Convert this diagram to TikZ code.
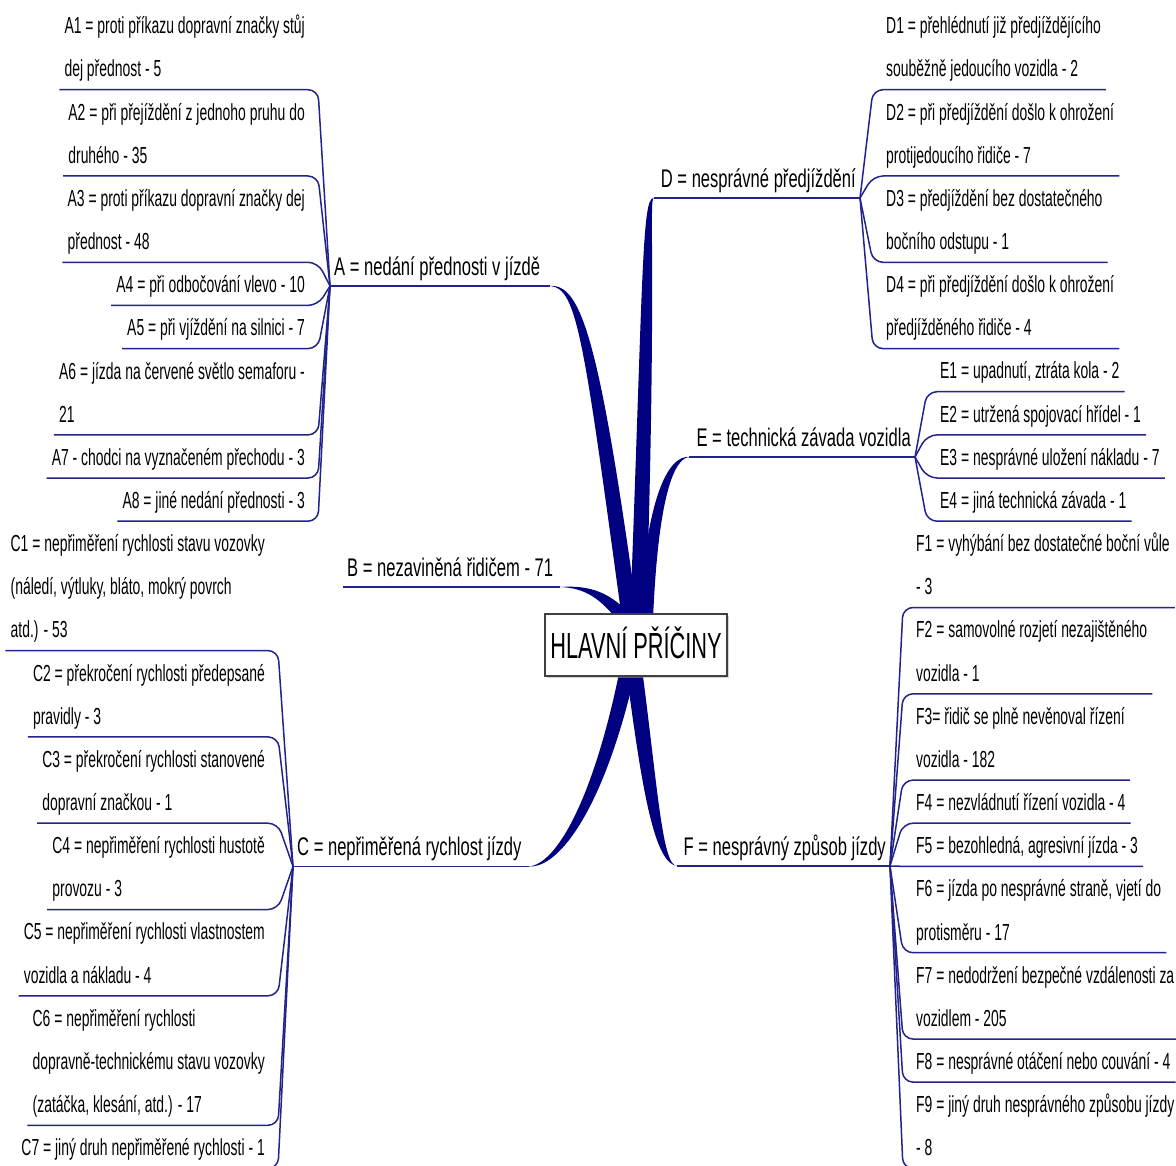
\documentclass[tikz,border=0pt]{standalone}
\usepackage{fontspec}
\setmainfont{Liberation Sans}[FakeStretch=0.65]
\newfontfamily\hubfont{Liberation Sans}[FakeStretch=0.6]
\newfontfamily\leaffamily{Liberation Sans}[FakeStretch=0.6]
\usepackage{tikz}
\usetikzlibrary{calc}
\usetikzlibrary{shadows}
\usetikzlibrary{backgrounds}
\definecolor{trunkblue}{RGB}{0,0,128}
\definecolor{twigblue}{RGB}{35,35,140}
\newcommand{\leaffont}{\leaffamily\fontsize{23.2}{43.15}\selectfont}
\newcommand{\catfont}{\fontsize{25.5}{30}\selectfont}
\newcommand{\uln}{\rule[-12.5pt]{0pt}{12.5pt}}
\tikzstyle{leaf} = [font=\leaffont, align=left, inner xsep=5pt, inner ysep=0pt]
\tikzstyle{cat} = [font=\catfont, inner xsep=4pt, inner ysep=0pt, text depth=10.5pt]
\tikzstyle{hub} = [draw=black!75, line width=1.2pt, fill=white, font=\hubfont\fontsize{36.3}{40}\selectfont, minimum width=182pt, minimum height=62pt, inner sep=0pt, text height=26pt, text depth=0pt, drop shadow={shadow xshift=2pt, shadow yshift=-2pt, fill=black!35}]
\tikzstyle{twig} = [line width=1.5pt, draw=twigblue, rounded corners=10pt]
\tikzstyle{stem} = [line width=1.6pt, draw=twigblue]
\tikzstyle{trunk} = [fill=trunkblue]

\begin{document}
\begin{tikzpicture}[x=1pt, y=-1pt]
\useasboundingbox (0,0) rectangle (1176,1166);
\node [hub] (hub) at (636,645) {HLAVNÍ PŘÍČINY};

\node [cat, anchor=south west] (catA) at (330,286) {A = nedání přednosti v jízdě};
\node [cat, anchor=south west] (catB) at (343,587) {B = nezaviněná řidičem - 71};
\node [cat, anchor=south west] (catC) at (293,866.5) {C = nepřiměřená rychlost jízdy};
\node [cat, anchor=south east] (catD) at (860,198) {D = nesprávné předjíždění};
\node [cat, anchor=south east] (catE) at (915,457) {E = technická závada vozidla};
\node [cat, anchor=south east] (catF) at (890,866) {F = nesprávný způsob jízdy};
\coordinate (ta) at ([xshift=6pt]catA.south east);
\coordinate (tb) at ([xshift=3pt]catB.south east);
\coordinate (tc) at ([xshift=3pt]catC.south east);
\coordinate (td) at ([xshift=-3pt]catD.south west);
\coordinate (te) at ([xshift=-3pt]catE.south west);
\coordinate (tf) at ([xshift=-2pt]catF.south west);
\draw [stem] (catA.south west) -- (ta);
\draw [stem] (catB.south west) -- (tb);
\draw [stem] (catC.south west) -- (tc);
\draw [stem] (catD.south east) -- (td);
\draw [stem] (catE.south east) -- (te);
\draw [stem] (catF.south east) -- (tf);

\begin{scope}[on background layer]
\fill [white] (0,0) rectangle (1176,1166);
\fill [trunk] (ta) .. controls +(31,-2) and +(-38,-278) .. ($(hub.north)+(2,6)$) -- ($(hub.north)+(-14,6)$) .. controls +(-38,-278) and +(27,2) .. (ta) -- cycle;
\fill [trunk] (td) .. controls +(-12,-1) and +(13,-340) .. ($(hub.north)+(-6,6)$) -- ($(hub.north)+(10,6)$) .. controls +(11,-340) and +(-5,1) .. (td) -- cycle;
\fill [trunk] (te) .. controls +(-22,-2) and +(7,-120) .. ($(hub.north)+(3,6)$) -- ($(hub.north)+(17,6)$) .. controls +(5,-120) and +(-16,1) .. (te) -- cycle;
\fill [trunk] (tb) .. controls +(28,-2) and +(-22,-28) .. ($(hub.north)+(-2,6)$) -- ($(hub.north)+(-16,10)$) .. controls +(-20,-26) and +(24,1) .. (tb) -- cycle;
\fill [trunk] (tc) .. controls +(28,-2) and +(-26,129) .. ($(hub.south)+(-16,-8)$) -- ($(hub.south)+(0,-8)$) .. controls +(-30,135) and +(32,2) .. (tc) -- cycle;
\fill [trunk] (tf) .. controls +(-23,-2) and +(16,122) .. ($(hub.south)+(-10,-8)$) -- ($(hub.south)+(6,-8)$) .. controls +(16,122) and +(-15,1) .. (tf) -- cycle;
\end{scope}

\node [leaf, anchor=south east] (a1) at (310,89.7) {A1 = proti příkazu dopravní značky stůj\\dej přednost - 5\uln};
\node [leaf, anchor=south east] (a2) at (310,176) {A2 = při přejíždění z jednoho pruhu do\\druhého - 35\uln};
\node [leaf, anchor=south east] (a3) at (310,262.3) {A3 = proti příkazu dopravní značky dej\\přednost - 48\uln};
\node [leaf, anchor=south east] (a4) at (310,305.4) {A4 = při odbočování vlevo - 10\uln};
\node [leaf, anchor=south east] (a5) at (310,348.6) {A5 = při vjíždění na silnici - 7\uln};
\node [leaf, anchor=south east] (a6) at (310,434.9) {A6 = jízda na červené světlo semaforu -\\21\uln};
\node [leaf, anchor=south east] (a7) at (310,478) {A7 - chodci na vyznačeném přechodu - 3\uln};
\node [leaf, anchor=south east] (a8) at (310,521.2) {A8 = jiné nedání přednosti - 3\uln};
\draw [twig] (a1.south west) -- ([xshift=8pt]a1.south east) -- (catA.south west);
\draw [twig] (a2.south west) -- ([xshift=8pt]a2.south east) -- (catA.south west);
\draw [twig] (a3.south west) -- ([xshift=8pt]a3.south east) -- (catA.south west);
\draw [twig] (a4.south west) -- ([xshift=8pt]a4.south east) -- (catA.south west);
\draw [twig] (a5.south west) -- ([xshift=8pt]a5.south east) -- (catA.south west);
\draw [twig] (a6.south west) -- ([xshift=8pt]a6.south east) -- (catA.south west);
\draw [twig] (a7.south west) -- ([xshift=8pt]a7.south east) -- (catA.south west);
\draw [twig] (a8.south west) -- ([xshift=8pt]a8.south east) -- (catA.south west);

\node [leaf, anchor=south east] (c1) at (270,650.6) {C1 = nepřiměření rychlosti stavu vozovky\\(náledí, výtluky, bláto, mokrý povrch\\atd.) - 53\uln};
\node [leaf, anchor=south east] (c2) at (270,736.9) {C2 = překročení rychlosti předepsané\\pravidly - 3\uln};
\node [leaf, anchor=south east] (c3) at (270,823.2) {C3 = překročení rychlosti stanovené\\dopravní značkou - 1\uln};
\node [leaf, anchor=south east] (c4) at (270,909.5) {C4 = nepřiměření rychlosti hustotě\\provozu - 3\uln};
\node [leaf, anchor=south east] (c5) at (270,995.8) {C5 = nepřiměření rychlosti vlastnostem\\vozidla a nákladu - 4\uln};
\node [leaf, anchor=south east] (c6) at (270,1125.3) {C6 = nepřiměření rychlosti\\dopravně-technickému stavu vozovky\\(zatáčka, klesání, atd.) - 17\uln};
\node [leaf, anchor=south east] (c7) at (270,1168.4) {C7 = jiný druh nepřiměřené rychlosti - 1\uln};
\draw [twig] (c1.south west) -- ([xshift=8pt]c1.south east) -- (catC.south west);
\draw [twig] (c2.south west) -- ([xshift=8pt]c2.south east) -- (catC.south west);
\draw [twig] (c3.south west) -- ([xshift=8pt]c3.south east) -- (catC.south west);
\draw [twig] (c4.south west) -- ([xshift=8pt]c4.south east) -- (catC.south west);
\draw [twig] (c5.south west) -- ([xshift=8pt]c5.south east) -- (catC.south west);
\draw [twig] (c6.south west) -- ([xshift=8pt]c6.south east) -- (catC.south west);
\draw [twig] (c7.south west) -- ([xshift=8pt]c7.south east) -- (catC.south west);

\node [leaf, anchor=south west] (d1) at (881,89.7) {D1 = přehlédnutí již předjíždějícího\\souběžně jedoucího vozidla - 2\uln};
\node [leaf, anchor=south west] (d2) at (881,176) {D2 = při předjíždění došlo k ohrožení\\protijedoucího řidiče - 7\uln};
\node [leaf, anchor=south west] (d3) at (881,262.3) {D3 = předjíždění bez dostatečného\\bočního odstupu - 1\uln};
\node [leaf, anchor=south west] (d4) at (881,348.6) {D4 = při předjíždění došlo k ohrožení\\předjížděného řidiče - 4\uln};
\draw [twig] (d1.south east) -- ([xshift=-8pt]d1.south west) -- (catD.south east);
\draw [twig] (d2.south east) -- ([xshift=-8pt]d2.south west) -- (catD.south east);
\draw [twig] (d3.south east) -- ([xshift=-8pt]d3.south west) -- (catD.south east);
\draw [twig] (d4.south east) -- ([xshift=-8pt]d4.south west) -- (catD.south east);

\node [leaf, anchor=south west] (e1) at (935,391.7) {E1 = upadnutí, ztráta kola - 2\uln};
\node [leaf, anchor=south west] (e2) at (935,434.9) {E2 = utržená spojovací hřídel - 1\uln};
\node [leaf, anchor=south west] (e3) at (935,478) {E3 = nesprávné uložení nákladu - 7\uln};
\node [leaf, anchor=south west] (e4) at (935,521.2) {E4 = jiná technická závada - 1\uln};
\draw [twig] (e1.south east) -- ([xshift=-8pt]e1.south west) -- (catE.south east);
\draw [twig] (e2.south east) -- ([xshift=-8pt]e2.south west) -- (catE.south east);
\draw [twig] (e3.south east) -- ([xshift=-8pt]e3.south west) -- (catE.south east);
\draw [twig] (e4.south east) -- ([xshift=-8pt]e4.south west) -- (catE.south east);

\node [leaf, anchor=south west] (f1) at (911,607.5) {F1 = vyhýbání bez dostatečné boční vůle\\- 3\uln};
\node [leaf, anchor=south west] (f2) at (911,693.8) {F2 = samovolné rozjetí nezajištěného\\vozidla - 1\uln};
\node [leaf, anchor=south west] (f3) at (911,780.1) {F3= řidič se plně nevěnoval řízení\\vozidla - 182\uln};
\node [leaf, anchor=south west] (f4) at (911,823.2) {F4 = nezvládnutí řízení vozidla - 4\uln};
\node [leaf, anchor=south west] (f5) at (911,866.4) {F5 = bezohledná, agresivní jízda - 3\uln};
\node [leaf, anchor=south west] (f6) at (911,952.7) {F6 = jízda po nesprávné straně, vjetí do\\protisměru - 17\uln};
\node [leaf, anchor=south west] (f7) at (911,1039) {F7 = nedodržení bezpečné vzdálenosti za\\vozidlem - 205\uln};
\node [leaf, anchor=south west] (f8) at (911,1082.1) {F8 = nesprávné otáčení nebo couvání - 4\uln};
\node [leaf, anchor=south west] (f9) at (911,1168.4) {F9 = jiný druh nesprávného způsobu jízdy\\- 8\uln};
\draw [twig] (f1.south east) -- ([xshift=-8pt]f1.south west) -- (catF.south east);
\draw [twig] (f2.south east) -- ([xshift=-8pt]f2.south west) -- (catF.south east);
\draw [twig] (f3.south east) -- ([xshift=-8pt]f3.south west) -- (catF.south east);
\draw [twig] (f4.south east) -- ([xshift=-8pt]f4.south west) -- (catF.south east);
\draw [twig] (f5.south east) -- ([xshift=-8pt]f5.south west) -- (catF.south east);
\draw [twig] (f6.south east) -- ([xshift=-8pt]f6.south west) -- (catF.south east);
\draw [twig] (f7.south east) -- ([xshift=-8pt]f7.south west) -- (catF.south east);
\draw [twig] (f8.south east) -- ([xshift=-8pt]f8.south west) -- (catF.south east);
\draw [twig] (f9.south east) -- ([xshift=-8pt]f9.south west) -- (catF.south east);
\end{tikzpicture}
\end{document}
